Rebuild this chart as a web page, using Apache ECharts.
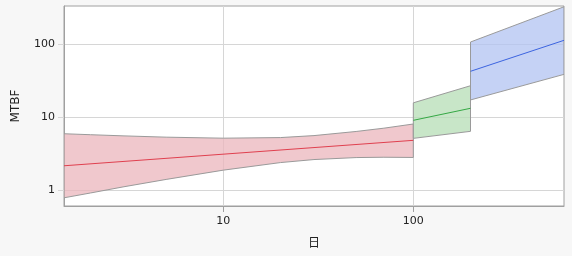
<!DOCTYPE html>
<html><head><meta charset="utf-8">
<script src="https://cdn.jsdelivr.net/npm/echarts@6/dist/echarts.min.js"></script>
<style>html,body{margin:0;padding:0;background:#f7f7f7}#c{width:572px;height:256px}</style>
</head><body><div id="c"></div>
<script>
// Segment 1 (red)
const redX     = [1.45, 2, 3, 5, 10, 20, 30, 50, 70, 100];
const redUpper = [5.96, 5.78, 5.57, 5.35, 5.18, 5.28, 5.62, 6.4, 7.1, 8.1];
const redLower = [0.79, 0.92, 1.12, 1.41, 1.89, 2.4, 2.64, 2.81, 2.84, 2.82];
const redMidX  = [1.45, 100];
const redMid   = [2.17, 4.84];
// Segment 2 (green)
const greenX     = [100, 200];
const greenUpper = [15.8, 27.1];
const greenLower = [5.15, 6.43];
const greenMid   = [9.1, 13.3];
// Segment 3 (blue)
const blueX     = [200, 621];
const blueUpper = [107.6, 327];
const blueLower = [17.3, 38.8];
const blueMid   = [42.7, 113.5];

const xTicks = [10, 100];
const yTicks = [1, 10, 100];

const bands = [
  {x: redX, upper: redUpper, lower: redLower, fill: 'rgba(235,182,188,0.75)'},
  {x: greenX, upper: greenUpper, lower: greenLower, fill: 'rgba(182,222,182,0.75)'},
  {x: blueX, upper: blueUpper, lower: blueLower, fill: 'rgba(178,195,242,0.75)'}
];
const pairs = (xs, ys) => xs.map((x, i) => [x, ys[i]]);
const fmt = list => v => {
  const hit = list.find(t => Math.abs(v - t) < 1e-6 * t);
  return hit !== undefined ? String(hit) : '';
};

const font = 'DejaVu Sans';
const chart = echarts.init(document.getElementById('c'));
chart.setOption({
  animation: false,
  backgroundColor: '#f7f7f7',
  grid: {left: 64, right: 8, top: 6, bottom: 50, show: true, backgroundColor: '#fff', borderColor: '#a0a0a0', borderWidth: 1},
  xAxis: {
    type: 'log', logBase: 10, min: 1.45, max: 621,
    name: '日', nameLocation: 'middle', nameGap: 30,
    nameTextStyle: {fontFamily: 'Noto Sans CJK JP', fontSize: 12, color: '#222'},
    axisLine: {show: true, lineStyle: {color: '#a0a0a0'}},
    axisTick: {show: true, length: 6, customValues: xTicks, lineStyle: {color: '#a0a0a0'}},
    axisLabel: {formatter: fmt(xTicks), margin: 10, fontFamily: font, fontSize: 11, color: '#222'},
    splitLine: {show: true, lineStyle: {color: '#d6d6d6'}}
  },
  yAxis: {
    type: 'log', logBase: 10, min: 0.61, max: 335,
    name: 'MTBF', nameLocation: 'middle', nameGap: 42,
    nameTextStyle: {fontFamily: font, fontSize: 12, color: '#222'},
    axisLine: {show: true, lineStyle: {color: '#a0a0a0'}},
    axisTick: {show: true, length: 6, customValues: yTicks, lineStyle: {color: '#d6d6d6'}},
    axisLabel: {formatter: fmt(yTicks), margin: 9, fontFamily: font, fontSize: 11, color: '#222'},
    splitLine: {show: true, lineStyle: {color: '#d6d6d6'}}
  },
  series: [
    {
      type: 'custom', clip: true, z: 2,
      data: bands.map((b, i) => [b.x[0], b.upper[0], i]),
      encode: {x: 0, y: 1},
      renderItem: function (params, api) {
        const b = bands[params.dataIndex];
        const pts = [];
        for (let i = 0; i < b.x.length; i++) pts.push(api.coord([b.x[i], b.upper[i]]));
        for (let i = b.x.length - 1; i >= 0; i--) pts.push(api.coord([b.x[i], b.lower[i]]));
        return {type: 'polygon', shape: {points: pts}, style: {fill: b.fill, stroke: '#9a9a9a', lineWidth: 1}};
      }
    },
    {type: 'line', z: 3, data: pairs(redMidX, redMid), showSymbol: false, lineStyle: {color: '#e0404f', width: 1}},
    {type: 'line', z: 3, data: pairs(greenX, greenMid), showSymbol: false, lineStyle: {color: '#34a844', width: 1}},
    {type: 'line', z: 3, data: pairs(blueX, blueMid), showSymbol: false, lineStyle: {color: '#3c64e0', width: 1}}
  ]
});
</script></body></html>
